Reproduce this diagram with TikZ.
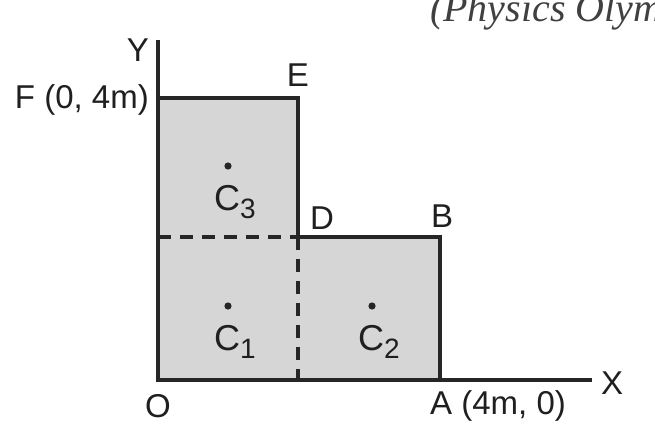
\documentclass[tikz,border=0pt]{standalone}
\usepackage{fontspec}
\setmainfont{Liberation Sans}
\newfontfamily\wmfont{Liberation Serif}
\begin{document}
\begin{tikzpicture}[x=1pt,y=-1pt,
  lbl/.style={inner sep=0pt,font=\fontsize{33}{33}\selectfont,text=black!88},
  edge/.style={line width=3.4pt,black!85},
  dashline/.style={line width=3.4pt,black!85,dash pattern=on 13pt off 9pt},
  axis/.style={line width=3.2pt,black!85}]
\useasboundingbox (0,0) rectangle (655,431);
\fill[white] (0,0) rectangle (655,431);
% corner points
\coordinate (O) at (158,380);
\coordinate (A) at (440,380);
\coordinate (B) at (440,237);
\coordinate (D) at (298,237);
\coordinate (E) at (298,98);
\coordinate (F) at (158,98);
\coordinate (Ytip) at (158,40);
\coordinate (Xtip) at (592,380);
% clipped header text
\begin{scope}
\clip (0,0) rectangle (655,431);
\node[anchor=base west,inner sep=0pt,font=\wmfont\itshape\fontsize{40}{40}\selectfont,text=black!75] (hdr) at (430,21) {(Physics Olym};
\end{scope}
% fill
\fill[black!16] (O) -- (A) -- (B) -- (D) -- (E) -- (F) -- cycle;
% dashed partitions
\draw[dashline] (F|-D) -- (D);
\draw[dashline] (D) -- (D|-O);
% outline
\draw[edge] (F) -- (E) -- (D) -- (B) -- (A);
% axes
\draw[axis] (Ytip) -- (O) -- (Xtip);
% labels
\node[lbl] (ly) at (138,50) {Y};
\node[lbl] (lx) at (612,383) {X};
\node[lbl,anchor=east] (lf) at (149,100) {F (0, 4m)};
\node[lbl] (le) at (298,75) {E};
\node[lbl] (ld) at (322,218) {D};
\node[lbl] (lb) at (442,216) {B};
\node[lbl] (lo) at (158,406) {O};
\node[lbl,anchor=west] (la) at (430,406) {A (4m, 0)};
% centres of mass
\foreach \n/\x/\y/\s in {c3/228/202/3, c1/228/342/1, c2/372/342/2}{
  \fill[black!85] (\x,\y-36) circle (3.6pt);
  \node[lbl,font=\fontsize{36}{36}\selectfont] (\n) at (\x+7,\y) {C\raisebox{-0.45ex}{\fontsize{28}{28}\selectfont\s}};
}
\end{tikzpicture}
\end{document}
